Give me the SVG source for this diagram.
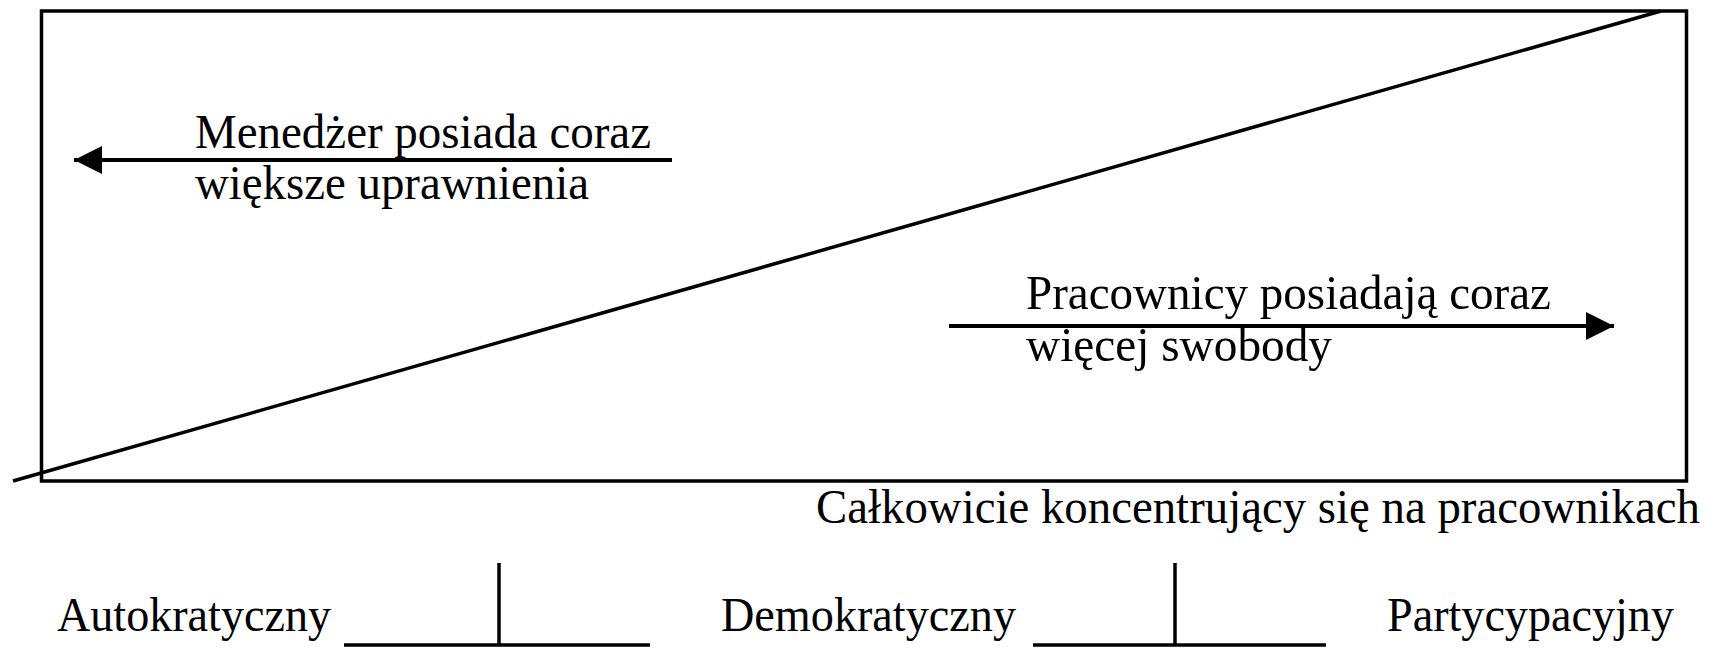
<svg xmlns="http://www.w3.org/2000/svg" width="1715" height="648" viewBox="0 0 1715 648">
<style>
.ln{stroke:#000;stroke-width:3.5;fill:none}
.ar{stroke:#000;stroke-width:4;fill:none}
.t{font-family:"Liberation Serif","Times New Roman",serif;font-size:49px;fill:#000}
</style>
<defs>
<marker id="ah" markerUnits="userSpaceOnUse" markerWidth="30" markerHeight="30" refX="28" refY="14" orient="auto">
<path d="M0,0 L28,14 L0,28 Z" fill="#000"/>
</marker>
</defs>
<rect width="1715" height="648" fill="#fff"/>
<g id="frame">
<rect class="ln" x="41.5" y="11" width="1645" height="470"/>
<line class="ln" x1="13" y1="481" x2="1661" y2="11"/>
</g>
<g id="connectors">
<line class="ar" x1="672" y1="160" x2="74" y2="160" marker-end="url(#ah)"/>
<line class="ar" x1="949" y1="326" x2="1614" y2="326" marker-end="url(#ah)"/>
</g>
<g id="manager">
<text class="t" x="195" y="148" textLength="456" lengthAdjust="spacingAndGlyphs">Menedżer posiada coraz</text>
<text class="t" x="195" y="199" textLength="394" lengthAdjust="spacingAndGlyphs">większe uprawnienia</text>
</g>
<g id="workers">
<text class="t" x="1026" y="309" textLength="525" lengthAdjust="spacingAndGlyphs">Pracownicy posiadają coraz</text>
<text class="t" x="1026" y="361" textLength="306" lengthAdjust="spacingAndGlyphs">więcej swobody</text>
</g>
<g id="focus">
<text class="t" x="816" y="523" textLength="884" lengthAdjust="spacingAndGlyphs">Całkowicie koncentrujący się na pracownikach</text>
</g>
<g id="scale">
<text class="t" x="57" y="631" textLength="274" lengthAdjust="spacingAndGlyphs">Autokratyczny</text>
<line class="ln" x1="344" y1="645" x2="650" y2="645"/>
<line class="ln" x1="499" y1="563" x2="499" y2="645"/>
<text class="t" x="721" y="631" textLength="295" lengthAdjust="spacingAndGlyphs">Demokratyczny</text>
<line class="ln" x1="1033" y1="645" x2="1326" y2="645"/>
<line class="ln" x1="1175" y1="563" x2="1175" y2="645"/>
<text class="t" x="1387" y="631" textLength="287" lengthAdjust="spacingAndGlyphs">Partycypacyjny</text>
</g>
</svg>
